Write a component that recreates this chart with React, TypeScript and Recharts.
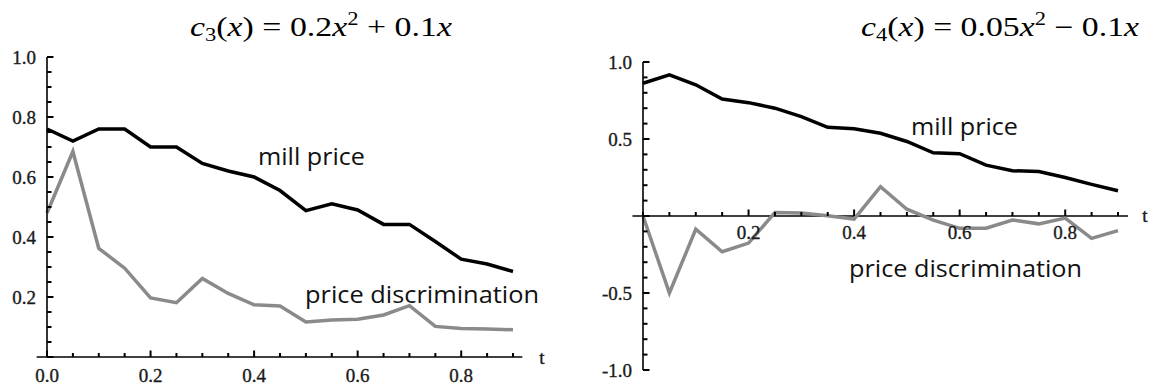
import React from 'react';
import { LineChart, Line, XAxis, YAxis, ReferenceLine } from 'recharts';

// time grid (t)
const T = [0, 0.05, 0.1, 0.15, 0.2, 0.25, 0.3, 0.35, 0.4, 0.45, 0.5, 0.55, 0.6, 0.65, 0.7, 0.75, 0.8, 0.85, 0.9];

// c3(x) = 0.2x^2 + 0.1x
const C3_MILL = [0.76, 0.72, 0.76, 0.76, 0.7, 0.7, 0.645, 0.62, 0.6, 0.555, 0.488, 0.511, 0.49, 0.442, 0.442, 0.385, 0.326, 0.31, 0.285];
const C3_DISC = [0.48, 0.685, 0.362, 0.296, 0.197, 0.181, 0.262, 0.212, 0.174, 0.17, 0.117, 0.123, 0.126, 0.14, 0.171, 0.102, 0.095, 0.093, 0.091];

// c4(x) = 0.05x^2 - 0.1x
const C4_MILL = [0.862, 0.916, 0.852, 0.76, 0.736, 0.7, 0.645, 0.576, 0.566, 0.537, 0.484, 0.41, 0.405, 0.33, 0.294, 0.289, 0.25, 0.205, 0.164];
const C4_DISC = [0, -0.5, -0.086, -0.232, -0.176, 0.023, 0.02, 0.002, -0.02, 0.19, 0.044, -0.027, -0.08, -0.079, -0.026, -0.051, -0.014, -0.145, -0.095];

// axis ticks
const X_TICKS = T;
const C3_X_LABELS = [0, 0.2, 0.4, 0.6, 0.8];
const C4_X_LABELS = [0.2, 0.4, 0.6, 0.8];
const C3_Y_TICKS = Array.from({ length: 21 }, (_, i) => Math.round(i * 5) / 100);
const C3_Y_LABELS = [0.2, 0.4, 0.6, 0.8, 1.0];
const C4_Y_TICKS = Array.from({ length: 21 }, (_, i) => Math.round(i * 10 - 100) / 100);
const C4_Y_LABELS = [-1, -0.5, 0.5, 1];

const c3Data = T.map((t, i) => ({ t, mill: C3_MILL[i], disc: C3_DISC[i] }));
const c4Data = T.map((t, i) => ({ t, mill: C4_MILL[i], disc: C4_DISC[i] }));

const TICK_FONT = "'Liberation Serif', 'Times New Roman', serif";
const LABEL_FONT = "'Open Sans', 'Noto Sans', sans-serif";
const MATH_FONT = "'Liberation Serif', 'DejaVu Serif', serif";

const isIn = (list: number[], v: number) => list.some((m) => Math.abs(m - v) < 1e-6);

const fmt = (v: number) => (v < 0 ? '-' : '') + Math.abs(v).toFixed(1);

const tickText = {
  fontFamily: TICK_FONT,
  fontSize: 19,
  fill: '#1a1a1a',
  stroke: '#1a1a1a',
  strokeWidth: 0.35,
};

function makeXTick(labelList: number[], shift: number, labelDy: number) {
  return (props: any) => {
    const x = Number(props.x);
    const y0 = Number(props.y) - shift;
    const v = props.payload.value;
    const major = isIn(labelList, v);
    return (
      <g>
        <line x1={x} x2={x} y1={y0} y2={y0 - (major ? 6.5 : 4)} stroke="#000" strokeWidth={2} />
        {major ? (
          <text x={x} y={y0 + labelDy} textAnchor="middle" {...tickText}>
            {fmt(v)}
          </text>
        ) : null}
      </g>
    );
  };
}

function makeYTick(labelList: number[], majorStep: number) {
  return (props: any) => {
    const x = Number(props.x);
    const y = Number(props.y);
    const v = props.payload.value;
    const labelled = isIn(labelList, v);
    const major = Math.abs(v / majorStep - Math.round(v / majorStep)) < 1e-6;
    return (
      <g>
        <line x1={x} x2={x + (major ? 6.5 : 4.5)} y1={y} y2={y} stroke="#000" strokeWidth={2} />
        {labelled ? (
          <text x={x - 11} y={y + 6.5} textAnchor="end" {...tickText}>
            {fmt(v)}
          </text>
        ) : null}
      </g>
    );
  };
}

// chart geometry
const C3_W = 580;
const C4_W = 573;
const H = 386;
const C4_TOP = 62;
const C4_XH = 16;
const C4_PLOT_H = H - C4_TOP - C4_XH;
const C4_ZERO_SHIFT = (C4_PLOT_H * (0 - -1)) / (1 - -1);

const c3XTick = makeXTick(C3_X_LABELS, 0, 25);
const c3YTick = makeYTick(C3_Y_LABELS, 0.2);
const c4XTick = makeXTick(C4_X_LABELS, C4_ZERO_SHIFT, 23);
const c4YTick = makeYTick(C4_Y_LABELS, 0.5);

const axisStyle = { stroke: '#000', strokeWidth: 1.6 };

export default function App() {
  return (
    <div style={{ position: 'absolute', left: 0, top: 0, width: 1153, height: H, background: '#fff' }}>
      {/* titles and curve labels, behind the charts */}
      <svg
        width={1153}
        height={H}
        style={{ position: 'absolute', left: 0, top: 0, pointerEvents: 'none' }}
      >
        <text x={190} y={36} fontFamily={MATH_FONT} fontSize={27} fill="#000" textLength={262} lengthAdjust="spacingAndGlyphs">
          <tspan fontStyle="italic">c</tspan>
          <tspan fontSize={18} dy={5}>3</tspan>
          <tspan dy={-5}>(</tspan>
          <tspan fontStyle="italic">x</tspan>
          <tspan>) = 0.2</tspan>
          <tspan fontStyle="italic">x</tspan>
          <tspan fontSize={18} dy={-11}>2</tspan>
          <tspan dy={11}> + 0.1</tspan>
          <tspan fontStyle="italic">x</tspan>
        </text>
        <text x={861} y={36} fontFamily={MATH_FONT} fontSize={27} fill="#000" textLength={278} lengthAdjust="spacingAndGlyphs">
          <tspan fontStyle="italic">c</tspan>
          <tspan fontSize={18} dy={5}>4</tspan>
          <tspan dy={-5}>(</tspan>
          <tspan fontStyle="italic">x</tspan>
          <tspan>) = 0.05</tspan>
          <tspan fontStyle="italic">x</tspan>
          <tspan fontSize={18} dy={-11}>2</tspan>
          <tspan dy={11}> − 0.1</tspan>
          <tspan fontStyle="italic">x</tspan>
        </text>
        <text x={258} y={165} fontFamily={LABEL_FONT} fontSize={23} fill="#111" textLength={107} lengthAdjust="spacingAndGlyphs">mill price</text>
        <text x={305} y={303} fontFamily={LABEL_FONT} fontSize={23} fill="#111" textLength={234} lengthAdjust="spacingAndGlyphs">price discrimination</text>
        <text x={911} y={135} fontFamily={LABEL_FONT} fontSize={23} fill="#111" textLength={107} lengthAdjust="spacingAndGlyphs">mill price</text>
        <text x={849} y={277} fontFamily={LABEL_FONT} fontSize={23} fill="#111" textLength={233} lengthAdjust="spacingAndGlyphs">price discrimination</text>
        <text x={542} y={364} textAnchor="middle" {...tickText}>t</text>
        <text x={1145} y={222} textAnchor="middle" {...tickText}>t</text>
      </svg>
      <div style={{ position: 'absolute', left: 0, top: 0 }}>
        <LineChart width={C3_W} height={H} data={c3Data} margin={{ top: 57, right: 67, left: 0, bottom: 0 }}>
          <XAxis
            dataKey="t"
            type="number"
            domain={[0, 0.9]}
            ticks={X_TICKS}
            height={29}
            axisLine={false}
            tickLine={false}
            tickSize={0}
            tickMargin={0}
            interval={0}
            tick={c3XTick}
          />
          <YAxis
            type="number"
            domain={[0, 1]}
            ticks={C3_Y_TICKS}
            width={47}
            axisLine={axisStyle}
            tickLine={false}
            tickSize={0}
            tickMargin={0}
            interval={0}
            tick={c3YTick}
          />
          <ReferenceLine
            segment={[{ x: -0.02, y: 0 }, { x: 0.918, y: 0 }]}
            stroke="#000"
            strokeWidth={1.6}
            ifOverflow="visible"
          />
          <Line dataKey="mill" stroke="#000" strokeWidth={3.5} dot={false} isAnimationActive={false} />
          <Line dataKey="disc" stroke="#8a8a8a" strokeWidth={3.5} dot={false} isAnimationActive={false} />
        </LineChart>
      </div>
      <div style={{ position: 'absolute', left: C3_W, top: 0 }}>
        <LineChart width={C4_W} height={H} data={c4Data} margin={{ top: C4_TOP, right: 35, left: 0, bottom: 0 }}>
          <XAxis
            dataKey="t"
            type="number"
            domain={[0, 0.9]}
            ticks={X_TICKS}
            height={C4_XH}
            axisLine={false}
            tickLine={false}
            tickSize={0}
            tickMargin={0}
            interval={0}
            tick={c4XTick}
          />
          <YAxis
            type="number"
            domain={[-1, 1]}
            ticks={C4_Y_TICKS}
            width={63}
            axisLine={axisStyle}
            tickLine={false}
            tickSize={0}
            tickMargin={0}
            interval={0}
            tick={c4YTick}
          />
          <ReferenceLine
            segment={[{ x: -0.02, y: 0 }, { x: 0.919, y: 0 }]}
            stroke="#000"
            strokeWidth={1.6}
            ifOverflow="visible"
          />
          <Line dataKey="mill" stroke="#000" strokeWidth={3.5} dot={false} isAnimationActive={false} />
          <Line dataKey="disc" stroke="#8a8a8a" strokeWidth={3.5} dot={false} isAnimationActive={false} />
        </LineChart>
      </div>
    </div>
  );
}
